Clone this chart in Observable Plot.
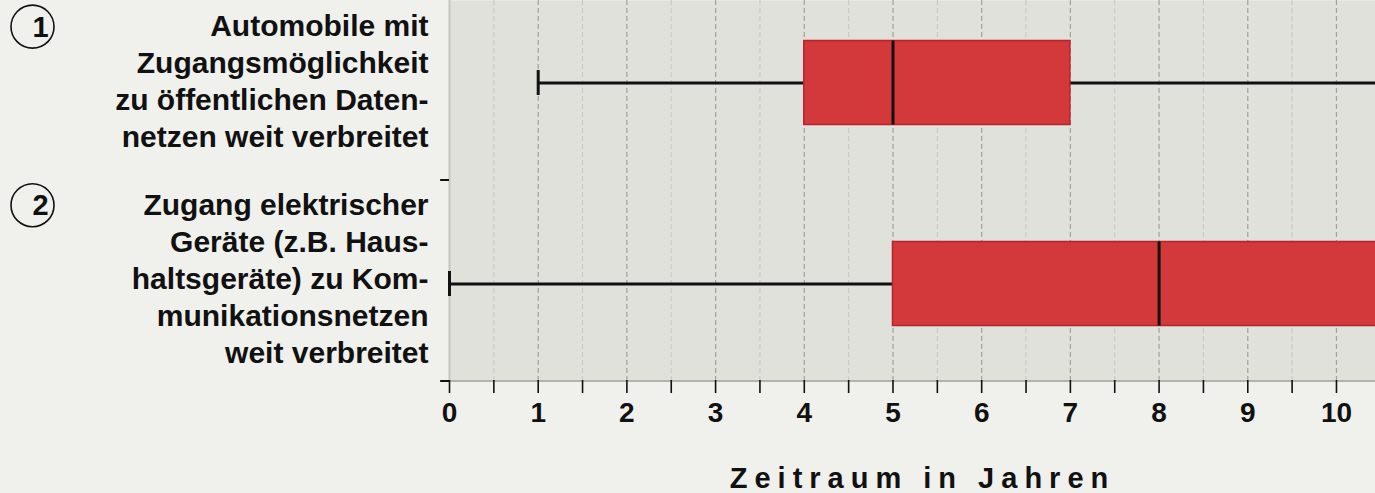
<!DOCTYPE html>
<html><head><meta charset="utf-8">
<script src="https://cdn.jsdelivr.net/npm/d3@7"></script>
<script src="https://cdn.jsdelivr.net/npm/@observablehq/plot@0.6"></script>
<style>
html,body{margin:0;padding:0;background:#f0f0ec;overflow:hidden;}
#chart svg{display:block;}
</style></head><body><div id="chart"></div>
<script>
// ---- data ----
const categories = ["1", "2"];
const rowLabels = [
  "Automobile mit\nZugangsmöglichkeit\nzu öffentlichen Daten-\nnetzen weit verbreitet",
  "Zugang elektrischer\nGeräte (z.B. Haus-\nhaltsgeräte) zu Kom-\nmunikationsnetzen\nweit verbreitet"
];
const whiskerLow = [1, 0];
const quartile1 = [4, 5];
const medians = [5, 8];
const quartile3 = [7, 11.5];
const whiskerHigh = [12, 12];
const xTicks = [0, 0.5, 1, 1.5, 2, 2.5, 3, 3.5, 4, 4.5, 5, 5.5, 6, 6.5, 7, 7.5, 8, 8.5, 9, 9.5, 10];
const xTickLabels = ["0", "", "1", "", "2", "", "3", "", "4", "", "5", "", "6", "", "7", "", "8", "", "9", "", "10"];
const xLabel = "Zeitraum in Jahren";

// ---- build ----
const rows = categories.map((c, i) => ({
  cat: c, label: rowLabels[i], lo: whiskerLow[i], q1: quartile1[i],
  med: medians[i], q3: quartile3[i], hi: whiskerHigh[i]
}));
const intTicks = xTicks.filter(d => Number.isInteger(d) && d > 0);
const halfTicks = xTicks.filter(d => !Number.isInteger(d));
const labelOf = new Map(xTicks.map((t, i) => [t, xTickLabels[i]]));

const FONT = "'Liberation Sans', Arial, Helvetica, sans-serif";
const LH = 1.23, FS = 30;

const labelMarks = rows.flatMap((r, i) => {
  const n = r.label.split("\n").length;
  const shift = i === 0 ? -3 : -7;
  const dy = -((n - 1) / 2) * LH * FS + shift + 2;
  return [
    Plot.text([r], {y: "cat", text: "label", frameAnchor: "left", textAnchor: "end", dx: -21, dy: shift, lineHeight: LH, fontSize: FS, fill: "#111"}),
    Plot.dot([r], {y: "cat", frameAnchor: "left", dx: -417, dy, r: 21.5, stroke: "#111", strokeWidth: 1.6, fill: "none"}),
    Plot.text([r], {y: "cat", text: "cat", frameAnchor: "left", dx: -417, dy: dy + 1, fontSize: 29, fill: "#111"})
  ];
});

const chart = Plot.plot({
  width: 1375, height: 493,
  marginLeft: 449, marginRight: 0, marginTop: 0, marginBottom: 113,
  style: {background: "#f0f0ec", fontFamily: FONT, fontWeight: "bold", color: "#111"},
  x: {domain: [0, 10.44]},
  y: {domain: categories, range: [-18, 384], padding: 0, axis: null},
  marks: [
    Plot.frame({fill: "#e1e1dc", stroke: "none"}),
    Plot.ruleX(halfTicks, {stroke: "#cbcbc3", strokeWidth: 1.2, strokeDasharray: "5,3"}),
    Plot.ruleX(intTicks, {stroke: "#a2a295", strokeWidth: 1.2, strokeDasharray: "5,3"}),
    Plot.ruleX([0], {stroke: "#c6c6bd", strokeWidth: 2}),
    Plot.ruleY([categories[categories.length - 1]], {dy: 97, stroke: "#b3b3a6", strokeWidth: 2}),
    // band boundary ticks on the left
    Plot.ruleY(categories, {x1: -0.1, x2: 0, dy: 97, stroke: "#111", strokeWidth: 2}),
    Plot.ruleY(rows, {y: "cat", x1: "lo", x2: "hi", stroke: "#111", strokeWidth: 3, clip: true}),
    Plot.tickX(rows, {x: "lo", y: "cat", stroke: "#111", strokeWidth: 3, insetTop: 88, insetBottom: 88}),
    Plot.barX(rows, {x1: "q1", x2: "q3", y: "cat", fill: "#d3383a", stroke: "#b8232b", strokeWidth: 1.5, insetTop: 58.5, insetBottom: 58.5, clip: true}),
    Plot.tickX(rows, {x: "med", y: "cat", stroke: "#111", strokeWidth: 3, insetTop: 58.5, insetBottom: 58.5}),
    Plot.axisX({ticks: xTicks, tickFormat: d => labelOf.get(d), tickSize: 13, tickPadding: 9, fontSize: 28, strokeWidth: 1.6, label: null}),
    Plot.text([xLabel], {frameAnchor: "bottom", text: d => d, dx: 10, dy: 107, fontSize: 29, fill: "#111"}),
    ...labelMarks
  ]
});
d3.select(chart).selectAll("text").filter(function() { return this.textContent === xLabel; })
  .attr("letter-spacing", "7px");
document.getElementById("chart").appendChild(chart);
</script></body></html>
